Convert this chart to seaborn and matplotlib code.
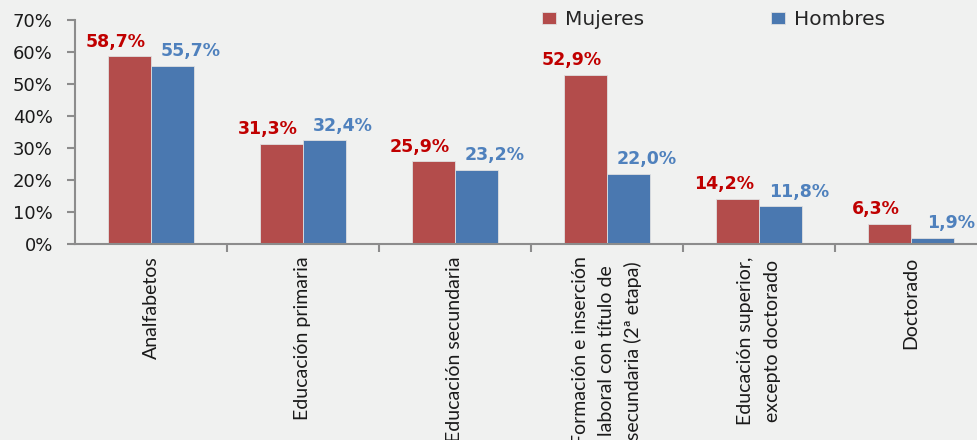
import matplotlib
matplotlib.use("Agg")
import matplotlib.pyplot as plt
from matplotlib.ticker import FuncFormatter, FixedLocator
import seaborn as sns
import pandas as pd

# Chart data
categories = [
    "Analfabetos",
    "Educación primaria",
    "Educación secundaria",
    "Formación e inserción\nlaboral con título de\nsecundaria (2ª etapa)",
    "Educación superior,\nexcepto doctorado",
    "Doctorado",
]
mujeres = [58.7, 31.3, 25.9, 52.9, 14.2, 6.3]
hombres = [55.7, 32.4, 23.2, 22.0, 11.8, 1.9]
series_names = ["Mujeres", "Hombres"]
y_ticks = [0, 10, 20, 30, 40, 50, 60, 70]

df = pd.DataFrame({
    "categoria": categories * 2,
    "sexo": [series_names[0]] * len(categories) + [series_names[1]] * len(categories),
    "valor": mujeres + hombres,
})

bg = "#F0F1F0"
bar_colors = ["#B34C4B", "#4A78B0"]
label_colors = ["#C00000", "#4F81BD"]

sns.set_style("white")
plt.rcParams["font.family"] = ["DejaVu Sans"]

fig = plt.figure(figsize=(9.78, 4.4), dpi=100, facecolor=bg)
ax = fig.add_axes([75 / 978, 196 / 440, 912 / 978, 224 / 440])
ax.set_facecolor(bg)

sns.barplot(data=df, x="categoria", y="valor", hue="sexo", order=categories,
            hue_order=series_names, palette=bar_colors, saturation=1, width=0.57,
            edgecolor="#e0e0e0", linewidth=0.6, ax=ax)

# value labels
offsets = [-0.09, 0.12]
for i, cont in enumerate(ax.containers):
    for bar, val in zip(cont, [mujeres, hombres][i]):
        x = bar.get_x() + bar.get_width() / 2 + offsets[i]
        ax.annotate(f"{val:.1f}%".replace(".", ","), (x, bar.get_height()),
                    xytext=(0, 4), textcoords="offset points", ha="center",
                    va="bottom", fontsize=12.5, fontweight="bold",
                    color=label_colors[i], clip_on=False)

ax.set_ylim(0, 70)
ax.set_xlim(-0.5, len(categories) - 0.5)
ax.set_yticks(y_ticks)
ax.yaxis.set_major_formatter(FuncFormatter(lambda v, p: f"{v:.0f}%"))
ax.tick_params(axis="y", labelsize=13, length=6, width=1.5, color="#8c8c8c",
               direction="out", left=True, pad=10, labelcolor="#1a1a1a")

ax.set_xticks(range(len(categories)))
ax.set_xticklabels(categories, rotation=90, fontsize=14, family="Lato",
                   linespacing=1.65, ha="center", va="top", multialignment="center")
ax.tick_params(axis="x", length=0, pad=9, labelcolor="#1a1a1a")
ax.xaxis.set_minor_locator(FixedLocator([k + 0.5 for k in range(len(categories))]))
ax.tick_params(axis="x", which="minor", length=6, width=1.5, color="#8c8c8c",
               direction="out", bottom=True)

for s in ["top", "right"]:
    ax.spines[s].set_visible(False)
for s in ["left", "bottom"]:
    ax.spines[s].set_color("#8c8c8c")
    ax.spines[s].set_linewidth(1.5)

ax.set_xlabel("")
ax.set_ylabel("")

handles, labels = ax.get_legend_handles_labels()
ax.legend(handles, labels, loc="upper left", bbox_to_anchor=(542 / 978, 1 - 10 / 440),
          bbox_transform=fig.transFigure, ncol=2, frameon=False, fontsize=14.5,
          handlelength=0.7, handleheight=0.55, handletextpad=0.45, columnspacing=6.3,
          borderaxespad=0, borderpad=0)

fig.savefig("out.png", dpi=100, facecolor=bg)
